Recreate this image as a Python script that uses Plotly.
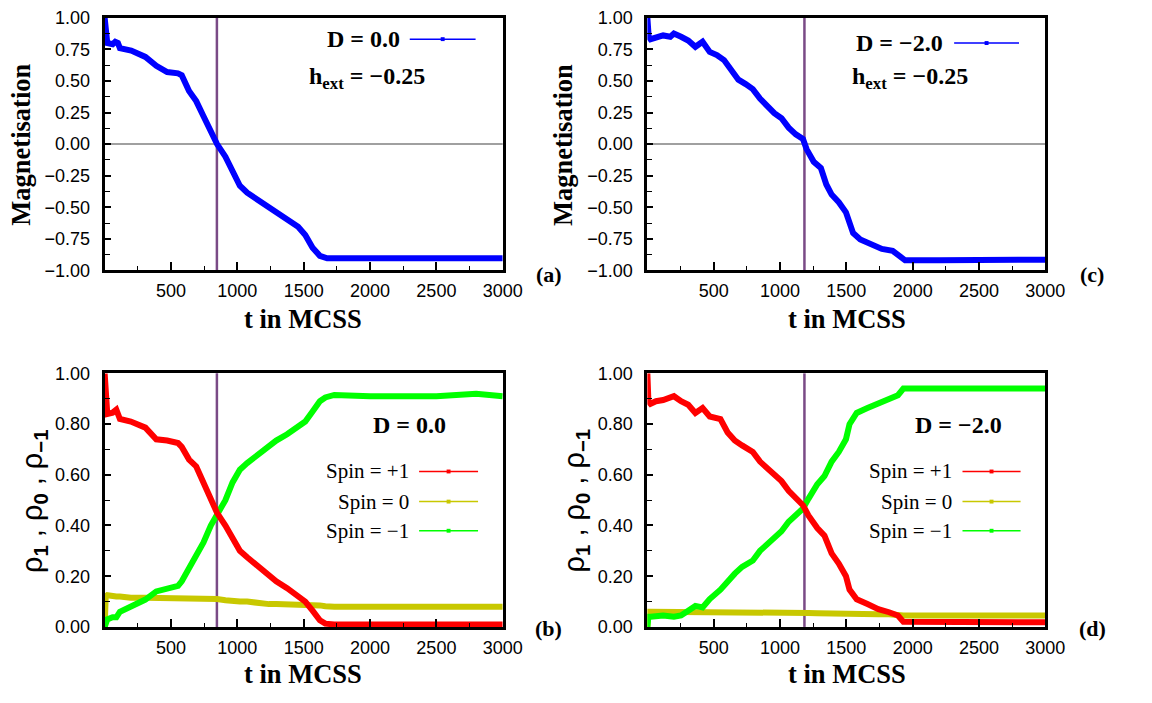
import plotly.graph_objects as go

# ---------------- data ----------------
# Panel (a): magnetisation, D = 0.0
t_a = [0, 8, 20, 60, 80, 100, 115, 200, 307, 389, 420, 471, 553, 581, 636, 690, 745, 800, 847,
       910, 964, 1019, 1074, 1129, 1184, 1238, 1293, 1375, 1458, 1512, 1567, 1622, 1677, 1750,
       2000, 2250, 2500, 2750, 3000]
m_a = [1.0, 0.82, 0.80, 0.79, 0.81, 0.80, 0.76, 0.74, 0.69, 0.62, 0.60, 0.57, 0.56, 0.545, 0.42,
       0.34, 0.22, 0.10, 0.0, -0.10, -0.22, -0.33, -0.385, -0.425, -0.46, -0.49, -0.54, -0.59,
       -0.655, -0.72, -0.82, -0.885, -0.905, -0.905, -0.905, -0.905, -0.90, -0.91, -0.905]

# Panel (c): magnetisation, D = -2.0
t_c = [0, 10, 24, 65, 119, 173, 200, 254, 308, 362, 416, 470, 524, 578, 632, 686, 741, 795, 849,
       903, 957, 1011, 1065, 1119, 1173, 1200, 1254, 1308, 1349, 1389, 1443, 1497, 1524, 1551,
       1605, 1686, 1768, 1849, 1903, 1943, 2200, 2500, 2800, 3000]
m_c = [1.0, 0.85, 0.83, 0.845, 0.86, 0.85, 0.875, 0.85, 0.82, 0.77, 0.81, 0.73, 0.705, 0.665,
       0.59, 0.51, 0.475, 0.435, 0.36, 0.295, 0.245, 0.205, 0.13, 0.077, 0.04, -0.04, -0.14,
       -0.19, -0.32, -0.40, -0.46, -0.54, -0.64, -0.705, -0.755, -0.795, -0.83, -0.845, -0.885,
       -0.92, -0.92, -0.915, -0.92, -0.915]

# Panel (b): spin densities, D = 0.0
t_b = [0, 8, 20, 60, 88, 115, 197, 307, 389, 471, 553, 581, 636, 690, 745, 800, 847, 910, 964,
       1019, 1074, 1129, 1184, 1238, 1293, 1375, 1458, 1512, 1567, 1622, 1663, 1731, 2000, 2250,
       2500, 2800, 3000]
rho_p1_b = [1.0, 0.86, 0.84, 0.845, 0.857, 0.82, 0.81, 0.786, 0.74, 0.735, 0.725, 0.71, 0.66,
            0.633, 0.57, 0.50, 0.45, 0.40, 0.35, 0.30, 0.275, 0.25, 0.224, 0.205, 0.18, 0.153,
            0.12, 0.10, 0.064, 0.026, 0.013, 0.01, 0.01, 0.01, 0.01, 0.01, 0.01]
rho_m1_b = [0.0, 0.02, 0.03, 0.038, 0.038, 0.06, 0.083, 0.108, 0.14, 0.153, 0.162, 0.18, 0.23,
            0.275, 0.333, 0.40, 0.44, 0.50, 0.57, 0.62, 0.646, 0.67, 0.69, 0.716, 0.735, 0.76,
            0.793, 0.81, 0.85, 0.89, 0.905, 0.915, 0.91, 0.91, 0.91, 0.92, 0.91]
rho_0_b = [0.0, 0.12, 0.125, 0.12, 0.12, 0.12, 0.115, 0.115, 0.115, 0.11, 0.11, 0.11, 0.11,
           0.11, 0.11, 0.11, 0.11, 0.105, 0.10, 0.10, 0.10, 0.095, 0.09, 0.09, 0.09, 0.09, 0.09,
           0.09, 0.085, 0.085, 0.082, 0.08, 0.08, 0.08, 0.08, 0.08, 0.08]

# Panel (d): spin densities, D = -2.0
t_d = [0, 8, 24, 65, 119, 200, 254, 308, 362, 416, 470, 551, 605, 659, 714, 795, 849, 903, 957,
       1011, 1065, 1119, 1173, 1214, 1281, 1335, 1389, 1443, 1497, 1524, 1578, 1659, 1741, 1822,
       1889, 1930, 2200, 2500, 2800, 3000]
rho_p1_d = [1.0, 0.89, 0.88, 0.89, 0.895, 0.91, 0.89, 0.876, 0.844, 0.863, 0.83, 0.82, 0.767,
            0.735, 0.716, 0.69, 0.652, 0.627, 0.60, 0.575, 0.537, 0.505, 0.48, 0.44, 0.39, 0.36,
            0.29, 0.25, 0.20, 0.147, 0.109, 0.09, 0.07, 0.058, 0.045, 0.02, 0.018, 0.018, 0.018,
            0.018]
rho_m1_d = [0.0, 0.04, 0.04, 0.042, 0.045, 0.04, 0.045, 0.064, 0.083, 0.077, 0.11, 0.147, 0.18,
            0.21, 0.237, 0.262, 0.30, 0.326, 0.352, 0.377, 0.415, 0.44, 0.467, 0.505, 0.563,
            0.595, 0.652, 0.69, 0.74, 0.80, 0.844, 0.863, 0.882, 0.895, 0.914, 0.94, 0.94, 0.94,
            0.945, 0.94]
rho_0_d = [0.0, 0.06, 0.06, 0.06, 0.06, 0.06, 0.06, 0.06, 0.06, 0.06, 0.06, 0.06, 0.06, 0.06,
           0.06, 0.058, 0.058, 0.057, 0.056, 0.056, 0.055, 0.055, 0.055, 0.055, 0.054, 0.053,
           0.052, 0.052, 0.051, 0.05, 0.05, 0.05, 0.05, 0.05, 0.048, 0.045, 0.045, 0.045, 0.045,
           0.045]

# crossing times (vertical lines)
t_cross_D0 = 846
t_cross_D2 = 1184

x_tick_vals = [500, 1000, 1500, 2000, 2500, 3000]
x_tick_text = ["500", "1000", "1500", "2000", "2500", "3000"]
m_tick_vals = [-1.0, -0.75, -0.5, -0.25, 0.0, 0.25, 0.5, 0.75, 1.0]
m_tick_text = ["\u22121.00", "\u22120.75", "\u22120.50", "\u22120.25", "0.00", "0.25", "0.50",
               "0.75", "1.00"]
r_tick_vals = [0.0, 0.2, 0.4, 0.6, 0.8, 1.0]
r_tick_text = ["0.00", "0.20", "0.40", "0.60", "0.80", "1.00"]

# ---------------- styling ----------------
W, H = 1152, 703
BLUE = "#0000ff"
RED = "#ff0000"
YEL = "#c8c800"
GRN = "#00ff00"
PURPLE = "#7a4a86"
GRAY = "#a0a0a0"
SANS = "Liberation Sans"
SERIF = "Liberation Serif"
LW = 6


def px(x):
    return x / W


def py(y):
    return 1 - y / H


XL0, XL1 = 106.5, 511.6
XR0, XR1 = 658.8, 1063.8
dom_x_left = [px(XL0), px(XL1)]
dom_x_right = [px(XR0), px(XR1)]
dom_y_top = [py(268), py(8)]
dom_y_bot = [py(635), py(374)]

fig = go.Figure()

fig.add_trace(go.Scatter(x=t_a, y=m_a, mode="lines", line=dict(color=BLUE, width=LW),
                         xaxis="x", yaxis="y", showlegend=False))
fig.add_trace(go.Scatter(x=t_c, y=m_c, mode="lines", line=dict(color=BLUE, width=LW),
                         xaxis="x2", yaxis="y2", showlegend=False))
for xa, ya, tt, r0, rm, rp in [("x3", "y3", t_b, rho_0_b, rho_m1_b, rho_p1_b),
                               ("x4", "y4", t_d, rho_0_d, rho_m1_d, rho_p1_d)]:
    fig.add_trace(go.Scatter(x=tt, y=r0, mode="lines", line=dict(color=YEL, width=LW),
                             xaxis=xa, yaxis=ya, showlegend=False))
    fig.add_trace(go.Scatter(x=tt, y=rm, mode="lines", line=dict(color=GRN, width=LW),
                             xaxis=xa, yaxis=ya, showlegend=False))
    fig.add_trace(go.Scatter(x=tt, y=rp, mode="lines", line=dict(color=RED, width=LW),
                             xaxis=xa, yaxis=ya, showlegend=False))


def xaxis_cfg(domain, anchor):
    return dict(domain=domain, anchor=anchor, range=[0, 3000], tickmode="array",
                tickvals=x_tick_vals, ticktext=x_tick_text, ticks="inside", ticklen=8,
                tickwidth=1.5, tickcolor="black", showline=True, linewidth=3, linecolor="black",
                mirror=True, showgrid=False, zeroline=False,
                tickfont=dict(family=SANS, size=18, color="black"), ticklabelstandoff=2,
                minor=dict(tickmode="linear", tick0=0, dtick=250, ticks="inside", ticklen=4,
                           tickwidth=1.2, tickcolor="black", showgrid=False))


def yaxis_cfg(domain, anchor, rng, vals, text, minor_dt):
    return dict(domain=domain, anchor=anchor, range=rng, tickmode="array", tickvals=vals,
                ticktext=text, ticks="inside", ticklen=6, tickwidth=1.5, tickcolor="black",
                showline=True, linewidth=3, linecolor="black", mirror=True, showgrid=False,
                zeroline=False, tickfont=dict(family=SANS, size=18, color="black"),
                ticklabelstandoff=8,
                minor=dict(tickmode="linear", tick0=0, dtick=minor_dt, ticks="inside",
                           ticklen=5, tickwidth=1.2, tickcolor="black", showgrid=False))


fig.update_layout(
    width=W, height=H, margin=dict(l=0, r=0, t=0, b=0), paper_bgcolor="white",
    plot_bgcolor="white", showlegend=False,
    xaxis=xaxis_cfg(dom_x_left, "y"),
    yaxis=yaxis_cfg(dom_y_top, "x", [-1, 1], m_tick_vals, m_tick_text, 0.125),
    xaxis2=xaxis_cfg(dom_x_right, "y2"),
    yaxis2=yaxis_cfg(dom_y_top, "x2", [-1, 1], m_tick_vals, m_tick_text, 0.125),
    xaxis3=xaxis_cfg(dom_x_left, "y3"),
    yaxis3=yaxis_cfg(dom_y_bot, "x3", [0, 1], r_tick_vals, r_tick_text, 0.1),
    xaxis4=xaxis_cfg(dom_x_right, "y4"),
    yaxis4=yaxis_cfg(dom_y_bot, "x4", [0, 1], r_tick_vals, r_tick_text, 0.1),
)

shapes = []
# zero lines in the magnetisation panels
for xa, ya in [("x", "y"), ("x2", "y2")]:
    shapes.append(dict(type="line", xref=f"{xa} domain", yref=ya, x0=0, x1=1, y0=0, y1=0,
                       line=dict(color=GRAY, width=2), layer="below"))
# vertical crossing lines
for xa, ya, tc in [("x", "y", t_cross_D0), ("x3", "y3", t_cross_D0),
                   ("x2", "y2", t_cross_D2), ("x4", "y4", t_cross_D2)]:
    shapes.append(dict(type="line", xref=xa, yref=f"{ya} domain", x0=tc, x1=tc, y0=0, y1=1,
                       line=dict(color=PURPLE, width=2.5), layer="below"))

annotations = []


def ann(text, x, y, size, family, xanchor="center", yanchor="middle", angle=0):
    annotations.append(dict(text=text, x=px(x), y=py(y), xref="paper", yref="paper",
                            showarrow=False, xanchor=xanchor, yanchor=yanchor, textangle=angle,
                            borderpad=0,
                            font=dict(family=family, size=size, color="black")))


def legend_line(x0, x1, y, color, width=1.5):
    shapes.append(dict(type="line", xref="paper", yref="paper", x0=px(x0), x1=px(x1),
                       y0=py(y), y1=py(y), line=dict(color=color, width=width)))
    xm = (x0 + x1) / 2
    shapes.append(dict(type="rect", xref="paper", yref="paper", x0=px(xm - 2), x1=px(xm + 2),
                       y0=py(y + 2), y1=py(y - 2), line=dict(width=0), fillcolor=color))


# axis titles
for xc, yc in [(308.5, 318), (861.5, 318), (308.5, 683), (861.5, 683)]:
    ann("<b>t in MCSS</b>", xc, yc, 26.5, SERIF)
ann("<b>Magnetisation</b>", 21, 139, 26.5, SERIF, angle=-90)
ann("<b>Magnetisation</b>", 573, 139, 26.5, SERIF, angle=-90)
rho_title = "\u03c1<sub><b>1</b></sub> , \u03c1<sub><b>0</b></sub> , \u03c1<sub><b>\u22121</b></sub>"
ann(rho_title, 34, 505, 29, SANS, angle=-90)
ann(rho_title, 586, 505, 29, SANS, angle=-90)

# panel letters
ann("<b>(a)</b>", 558.6, 272, 22, SERIF)
ann("<b>(c)</b>", 1111, 272, 22, SERIF)
ann("<b>(b)</b>", 558.6, 637, 22, SERIF)
ann("<b>(d)</b>", 1112, 637, 22, SERIF)

# legends of the magnetisation panels
ann("<b>D = 0.0</b>", 408, 30, 24, SERIF, xanchor="right")
legend_line(417, 484, 30, BLUE)
ann("<b>h<sub>ext</sub> = \u22120.25</b>", 313, 70, 24, SERIF, xanchor="left")
ann("<b>D = \u22122.0</b>", 961, 34, 24, SERIF, xanchor="right")
legend_line(971, 1037, 34, BLUE)
ann("<b>h<sub>ext</sub> = \u22120.25</b>", 866, 70, 24, SERIF, xanchor="left")

# legends of the density panels
ann("<b>D = 0.0</b>", 455, 427, 24, SERIF, xanchor="right")
ann("<b>D = \u22122.0</b>", 1021, 427, 24, SERIF, xanchor="right")
spin_labels = ["Spin = +1", "Spin = 0", "Spin = \u22121"]
spin_colors = [RED, YEL, GRN]
spin_y = [475, 506, 536]
for lab, col, yy in zip(spin_labels, spin_colors, spin_y):
    ann(lab, 417, yy, 21, SERIF, xanchor="right")
    legend_line(426.5, 486.5, yy, col)
    ann(lab, 970, yy, 21, SERIF, xanchor="right")
    legend_line(979.5, 1038.6, yy, col)

fig.update_layout(shapes=shapes, annotations=annotations)
fig.write_html("out.html")
